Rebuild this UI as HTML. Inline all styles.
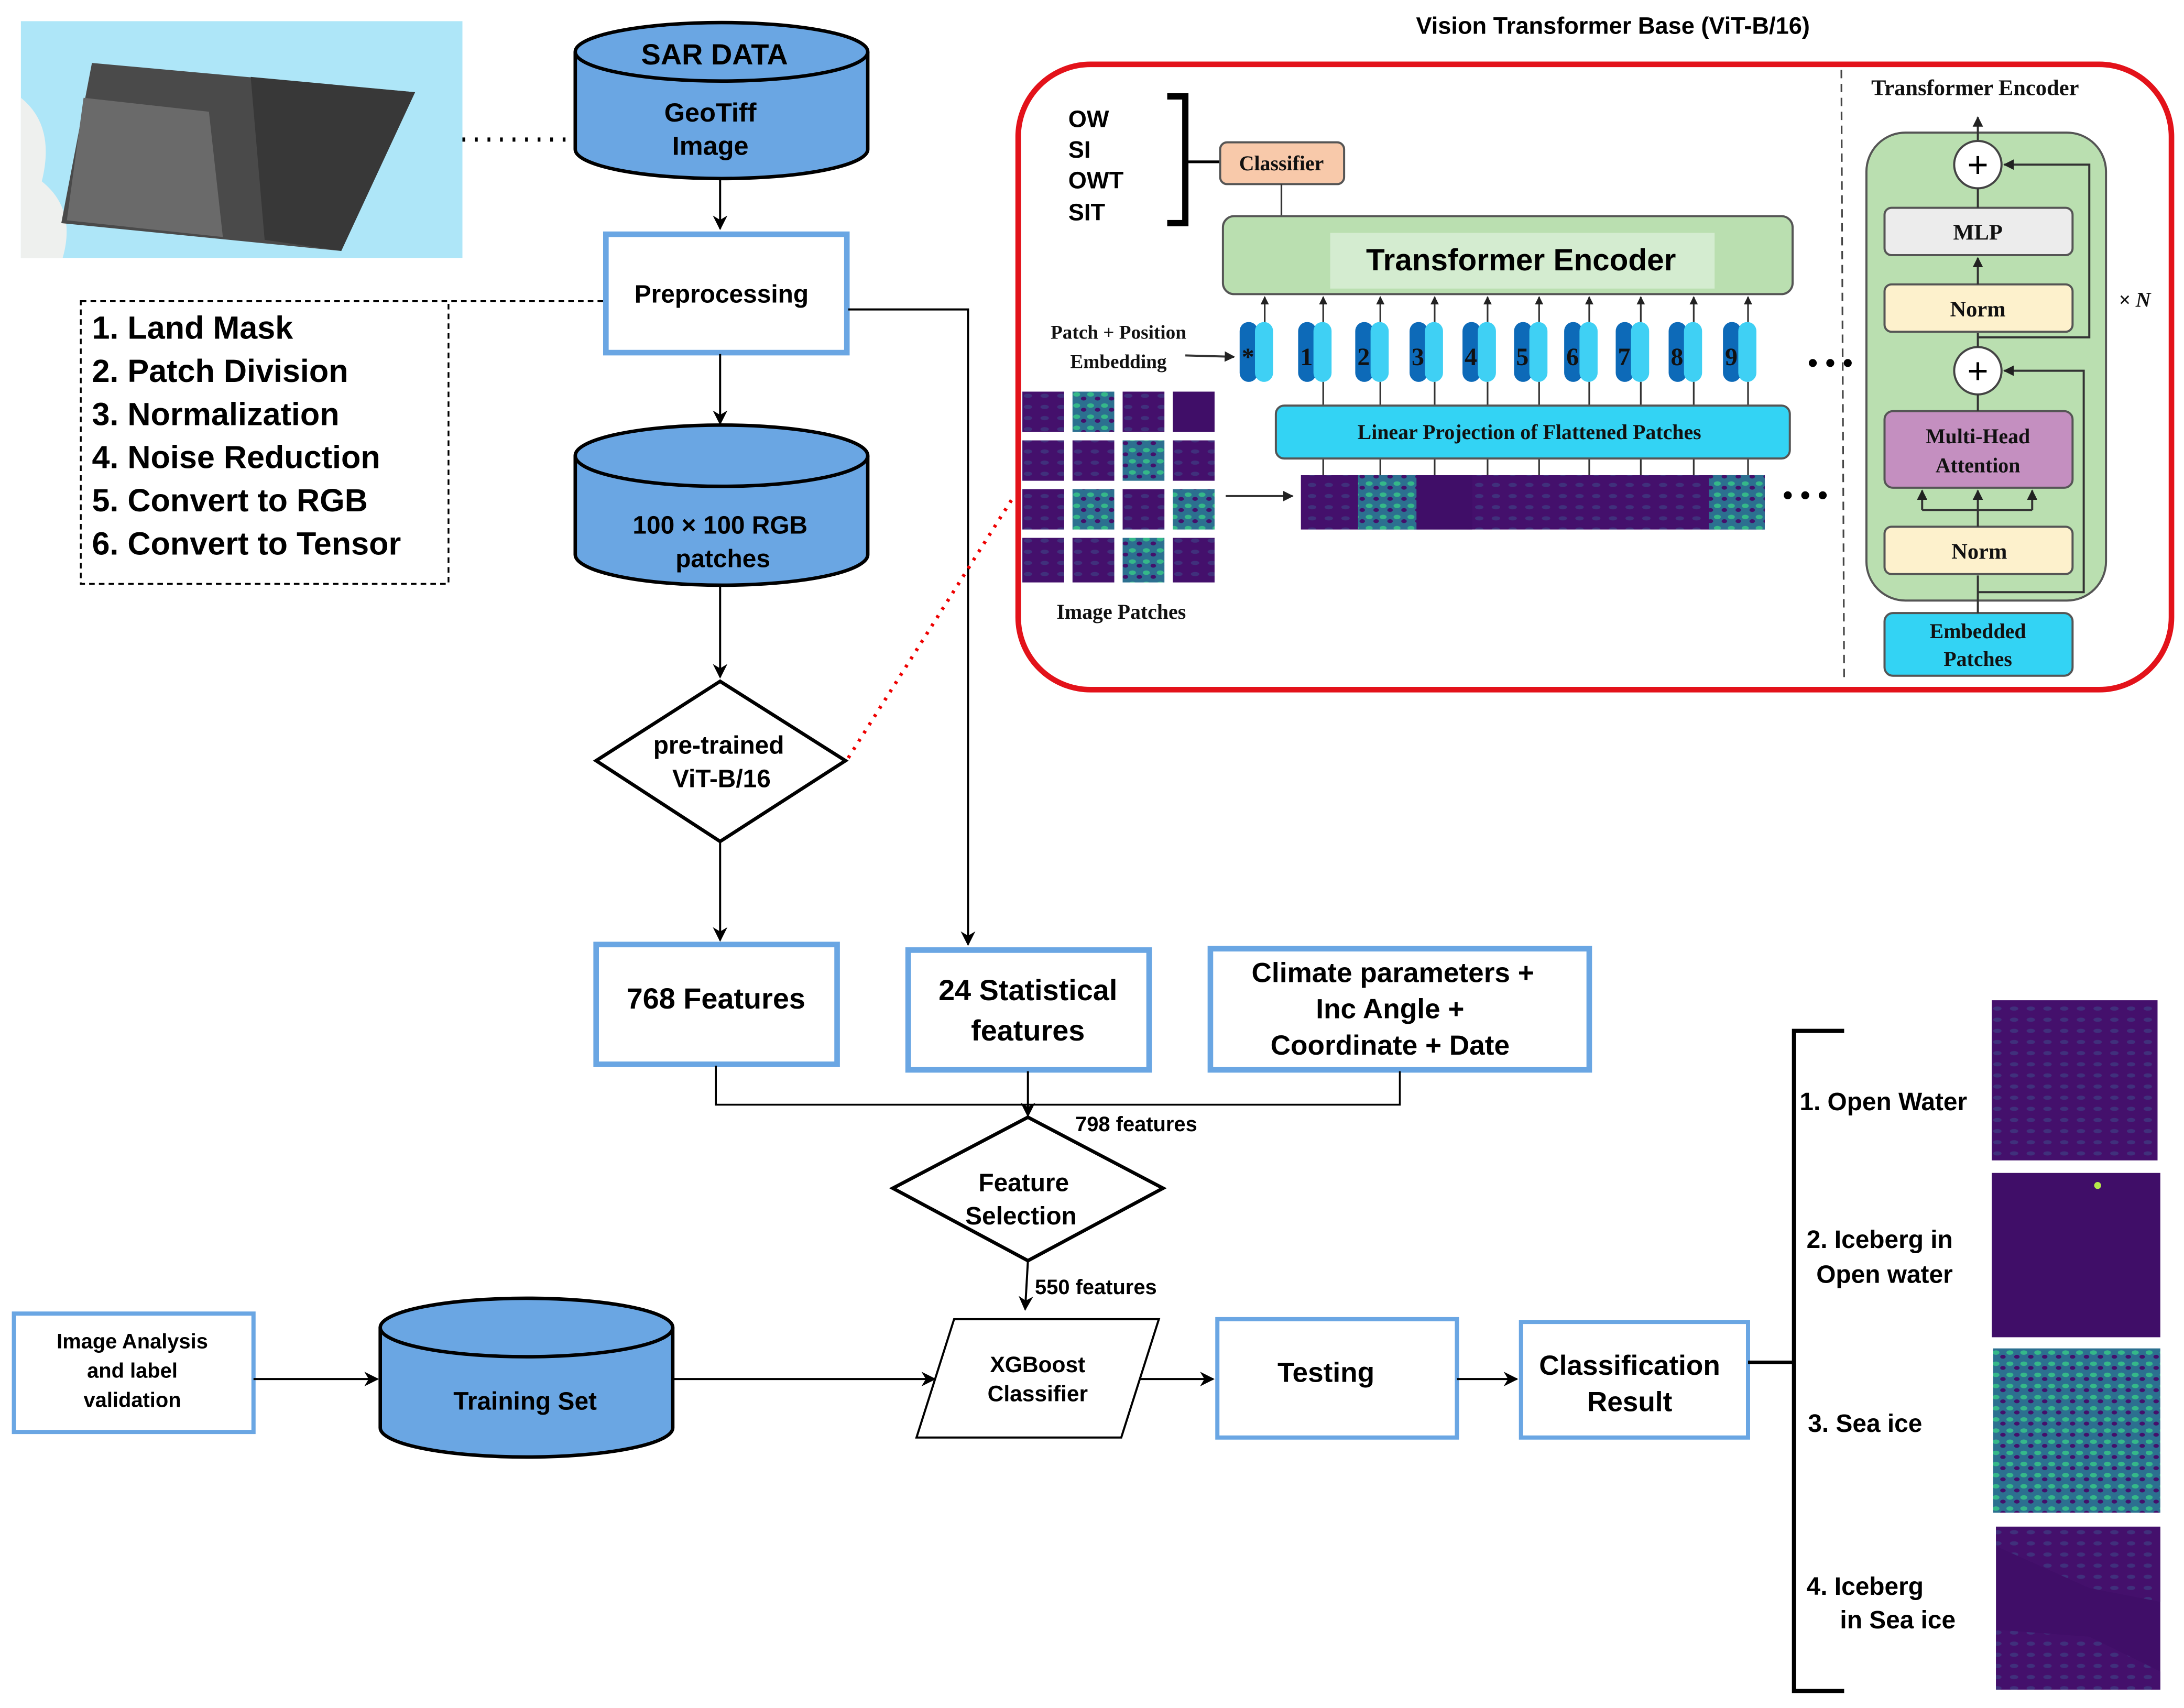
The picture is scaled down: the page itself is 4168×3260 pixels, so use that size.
<!DOCTYPE html>
<html><head><meta charset="utf-8"><style>
html,body{margin:0;padding:0;background:#fff}
svg{display:block}
.s{font-family:"Liberation Sans",sans-serif;font-weight:bold;fill:#000}
.r{font-family:"Liberation Serif",serif;font-weight:bold;fill:#111}
</style></head><body>
<svg width="4168" height="3260" viewBox="0 0 1568 1226" xmlns="http://www.w3.org/2000/svg">
<defs>
<marker id="a" viewBox="0 0 10 10" refX="9" refY="5" markerWidth="7" markerHeight="7" orient="auto-start-reverse"><path d="M0,0 L10,5 L0,10 L3,5 z" fill="#000"/></marker>
<marker id="b" viewBox="0 0 10 10" refX="9" refY="5" markerWidth="5" markerHeight="5" orient="auto"><path d="M0,0 L10,5 L0,10 z" fill="#222"/></marker>
<pattern id="pw" width="12" height="8" patternUnits="userSpaceOnUse"><rect width="12" height="8" fill="#44106c"/><ellipse cx="6" cy="4" rx="3" ry="1.5" fill="#3b4f8c" opacity=".5"/></pattern>
<pattern id="pi" width="10" height="8" patternUnits="userSpaceOnUse"><rect width="10" height="8" fill="#2c7090"/><ellipse cx="3" cy="3" rx="2.5" ry="1.6" fill="#35b889"/><ellipse cx="8" cy="6" rx="2" ry="1.4" fill="#44106c"/></pattern>
</defs>
<rect width="1568" height="1226" fill="#fff"/>

<!-- map -->
<rect x="15" y="15" width="317" height="170" fill="#aee6f8"/>
<path d="M15,70 Q40,90 30,130 Q55,150 45,185 L15,185 Z" fill="#eef0ee"/>
<polygon points="66,45 298,66 245,180 44,160" fill="#4a4a4a"/>
<polygon points="60,70 150,80 160,170 48,158" fill="#6a6a6a"/>
<polygon points="180,55 298,66 245,180 190,172" fill="#383838"/>
<line x1="332" y1="100" x2="410" y2="100" stroke="#000" stroke-width="3" stroke-dasharray="2,7"/>

<!-- SAR cylinder -->
<path d="M413,37 V107 A105,21 0 0 0 623,107 V37" fill="#6aa6e3" stroke="#000" stroke-width="2.5"/>
<ellipse cx="518" cy="37" rx="105" ry="21" fill="#6aa6e3" stroke="#000" stroke-width="2.5"/>
<text x="513" y="46" class="s" font-size="21" text-anchor="middle">SAR DATA</text>
<text x="510" y="87" class="s" font-size="19" text-anchor="middle">GeoTiff</text>
<text x="510" y="111" class="s" font-size="19" text-anchor="middle">Image</text>
<line x1="517" y1="128" x2="517" y2="164" stroke="#000" stroke-width="1.5" marker-end="url(#a)"/>

<!-- preprocessing -->
<rect x="435" y="168" width="173" height="85" fill="#fff" stroke="#6aa6e3" stroke-width="4"/>
<text x="518" y="217" class="s" font-size="18" text-anchor="middle">Preprocessing</text>
<polyline points="433,216 322,216" stroke="#000" stroke-width="1.3" stroke-dasharray="4,3" fill="none"/>
<rect x="58" y="216" width="264" height="203" fill="none" stroke="#000" stroke-width="1.3" stroke-dasharray="4,3"/>
<g class="s" font-size="23">
<text x="66" y="243">1. Land Mask</text>
<text x="66" y="274">2. Patch Division</text>
<text x="66" y="305">3. Normalization</text>
<text x="66" y="336">4. Noise Reduction</text>
<text x="66" y="367">5. Convert to RGB</text>
<text x="66" y="398">6. Convert to Tensor</text>
</g>
<polyline points="609,222 695,222 695,678" stroke="#000" stroke-width="1.5" fill="none" marker-end="url(#a)"/>
<line x1="517" y1="254" x2="517" y2="304" stroke="#000" stroke-width="1.5" marker-end="url(#a)"/>

<!-- 100x100 cylinder -->
<path d="M413,327 V398 A105,22 0 0 0 623,398 V327" fill="#6aa6e3" stroke="#000" stroke-width="2.5"/>
<ellipse cx="518" cy="327" rx="105" ry="22" fill="#6aa6e3" stroke="#000" stroke-width="2.5"/>
<text x="517" y="383" class="s" font-size="18" text-anchor="middle">100 × 100 RGB</text>
<text x="519" y="407" class="s" font-size="18" text-anchor="middle">patches</text>
<line x1="517" y1="420" x2="517" y2="486" stroke="#000" stroke-width="1.5" marker-end="url(#a)"/>

<!-- diamond ViT -->
<polygon points="517,489 607,546 517,604 428,546" fill="#fff" stroke="#000" stroke-width="2.5"/>
<text x="516" y="541" class="s" font-size="18" text-anchor="middle">pre-trained</text>
<text x="518" y="565" class="s" font-size="18" text-anchor="middle">ViT-B/16</text>
<line x1="609" y1="544" x2="728" y2="356" stroke="#e00" stroke-width="2.5" stroke-dasharray="2,5"/>
<line x1="517" y1="604" x2="517" y2="675" stroke="#000" stroke-width="1.5" marker-end="url(#a)"/>

<!-- feature boxes -->
<rect x="428" y="678" width="173" height="86" fill="#fff" stroke="#6aa6e3" stroke-width="4"/>
<text x="514" y="724" class="s" font-size="21" text-anchor="middle">768 Features</text>
<rect x="652" y="682" width="173" height="86" fill="#fff" stroke="#6aa6e3" stroke-width="4"/>
<text x="738" y="718" class="s" font-size="21" text-anchor="middle">24 Statistical</text>
<text x="738" y="747" class="s" font-size="21" text-anchor="middle">features</text>
<rect x="869" y="681" width="272" height="87" fill="#fff" stroke="#6aa6e3" stroke-width="4"/>
<text x="1000" y="705" class="s" font-size="20" text-anchor="middle">Climate parameters +</text>
<text x="998" y="731" class="s" font-size="20" text-anchor="middle">Inc Angle +</text>
<text x="998" y="757" class="s" font-size="20" text-anchor="middle">Coordinate + Date</text>
<polyline points="514,765 514,793 1005,793 1005,769" stroke="#000" stroke-width="1.3" fill="none"/>
<line x1="738" y1="769" x2="738" y2="801" stroke="#000" stroke-width="1.5" marker-end="url(#a)"/>
<text x="772" y="812" class="s" font-size="15">798 features</text>

<polygon points="738,802 835,853 738,905 641,853" fill="#fff" stroke="#000" stroke-width="2.5"/>
<text x="735" y="855" class="s" font-size="18" text-anchor="middle">Feature</text>
<text x="733" y="879" class="s" font-size="18" text-anchor="middle">Selection</text>
<line x1="738" y1="905" x2="736" y2="940" stroke="#000" stroke-width="1.5" marker-end="url(#a)"/>
<text x="743" y="929" class="s" font-size="15">550 features</text>

<!-- bottom row -->
<rect x="10" y="943" width="172" height="85" fill="#fff" stroke="#6aa6e3" stroke-width="3"/>
<text x="95" y="968" class="s" font-size="15" text-anchor="middle">Image Analysis</text>
<text x="95" y="989" class="s" font-size="15" text-anchor="middle">and label</text>
<text x="95" y="1010" class="s" font-size="15" text-anchor="middle">validation</text>
<line x1="182" y1="990" x2="271" y2="990" stroke="#000" stroke-width="1.5" marker-end="url(#a)"/>
<path d="M273,953 V1025 A105,21 0 0 0 483,1025 V953" fill="#6aa6e3" stroke="#000" stroke-width="2.5"/>
<ellipse cx="378" cy="953" rx="105" ry="21" fill="#6aa6e3" stroke="#000" stroke-width="2.5"/>
<text x="377" y="1012" class="s" font-size="18" text-anchor="middle">Training Set</text>
<line x1="483" y1="990" x2="671" y2="990" stroke="#000" stroke-width="1.5" marker-end="url(#a)"/>
<polygon points="685,947 832,947 805,1032 658,1032" fill="#fff" stroke="#000" stroke-width="1.5"/>
<text x="745" y="985" class="s" font-size="16" text-anchor="middle">XGBoost</text>
<text x="745" y="1006" class="s" font-size="16" text-anchor="middle">Classifier</text>
<line x1="818" y1="990" x2="871" y2="990" stroke="#000" stroke-width="1.5" marker-end="url(#a)"/>
<rect x="874" y="947" width="172" height="85" fill="#fff" stroke="#6aa6e3" stroke-width="3"/>
<text x="952" y="992" class="s" font-size="20" text-anchor="middle">Testing</text>
<line x1="1046" y1="990" x2="1089" y2="990" stroke="#000" stroke-width="1.5" marker-end="url(#a)"/>
<rect x="1092" y="949" width="163" height="83" fill="#fff" stroke="#6aa6e3" stroke-width="3"/>
<text x="1170" y="987" class="s" font-size="20" text-anchor="middle">Classification</text>
<text x="1170" y="1013" class="s" font-size="20" text-anchor="middle">Result</text>
<line x1="1255" y1="978" x2="1288" y2="978" stroke="#000" stroke-width="2.5"/>
<polyline points="1324,740 1288,740 1288,1214 1324,1214" stroke="#000" stroke-width="3" fill="none"/>
<g class="s" font-size="18">
<text x="1292" y="797">1. Open Water</text>
<text x="1297" y="896">2. Iceberg  in</text>
<text x="1304" y="921">Open water</text>
<text x="1298" y="1028">3. Sea ice</text>
<text x="1297" y="1145">4. Iceberg</text>
<text x="1321" y="1169">in Sea ice</text>
</g>
<rect x="1430" y="718" width="119" height="115" fill="url(#pw)"/>
<rect x="1430" y="842" width="121" height="118" fill="#400e68"/>
<circle cx="1506" cy="851" r="2.5" fill="#b6e84a"/>
<rect x="1431" y="968" width="120" height="118" fill="url(#pi)"/>
<rect x="1433" y="1096" width="118" height="117" fill="#400e68"/>
<polygon points="1433,1096 1551,1096 1551,1150 1500,1140 1433,1110" fill="url(#pw)"/>
<polygon points="1433,1170 1500,1175 1551,1200 1551,1213 1433,1213" fill="url(#pw)"/>

<!-- ViT panel -->
<text x="1158" y="24" class="s" font-size="17" text-anchor="middle">Vision Transformer Base (ViT-B/16)</text>
<rect x="731" y="46" width="828" height="449" rx="52" fill="#fff" stroke="#e3121a" stroke-width="4"/>
<line x1="1322" y1="50" x2="1324" y2="490" stroke="#444" stroke-width="1.2" stroke-dasharray="6,4"/>
<text x="1418" y="68" class="r" font-size="16" text-anchor="middle">Transformer Encoder</text>
<g class="s" font-size="17">
<text x="767" y="91">OW</text><text x="767" y="113">SI</text><text x="767" y="135">OWT</text><text x="767" y="158">SIT</text>
</g>
<polyline points="838,69 851,69 851,160 838,160" stroke="#000" stroke-width="4.5" fill="none"/>
<line x1="851" y1="116" x2="876" y2="116" stroke="#000" stroke-width="2"/>
<rect x="876" y="102" width="89" height="30" rx="5" fill="#f8c9aa" stroke="#555" stroke-width="1.5"/>
<text x="920" y="122" class="r" font-size="15" text-anchor="middle">Classifier</text>
<line x1="920" y1="132" x2="920" y2="155" stroke="#333" stroke-width="1.2"/>
<rect x="878" y="155" width="409" height="56" rx="8" fill="#badfb0" stroke="#555" stroke-width="1.5"/>
<rect x="955" y="167" width="276" height="40" fill="#d4ecd0"/>
<text x="1092" y="194" class="s" font-size="22" text-anchor="middle">Transformer Encoder</text>
<text x="803" y="243" class="r" font-size="14" text-anchor="middle">Patch + Position</text>
<text x="803" y="264" class="r" font-size="14" text-anchor="middle">Embedding</text>
<line x1="851" y1="255" x2="886" y2="256" stroke="#333" stroke-width="1.5" marker-end="url(#b)"/>
<g font-family="Liberation Serif" font-weight="bold" font-size="18" fill="#111">
<g><rect x="890" y="231" width="13" height="43" rx="6.5" fill="#0d6ab8"/><rect x="901" y="231" width="13" height="43" rx="6.5" fill="#3fd0f4"/><text x="896" y="262" text-anchor="middle">*</text></g>
<g><rect x="932" y="231" width="13" height="43" rx="6.5" fill="#0d6ab8"/><rect x="943" y="231" width="13" height="43" rx="6.5" fill="#3fd0f4"/><text x="938" y="262" text-anchor="middle">1</text></g>
<g><rect x="973" y="231" width="13" height="43" rx="6.5" fill="#0d6ab8"/><rect x="984" y="231" width="13" height="43" rx="6.5" fill="#3fd0f4"/><text x="979" y="262" text-anchor="middle">2</text></g>
<g><rect x="1012" y="231" width="13" height="43" rx="6.5" fill="#0d6ab8"/><rect x="1023" y="231" width="13" height="43" rx="6.5" fill="#3fd0f4"/><text x="1018" y="262" text-anchor="middle">3</text></g>
<g><rect x="1050" y="231" width="13" height="43" rx="6.5" fill="#0d6ab8"/><rect x="1061" y="231" width="13" height="43" rx="6.5" fill="#3fd0f4"/><text x="1056" y="262" text-anchor="middle">4</text></g>
<g><rect x="1087" y="231" width="13" height="43" rx="6.5" fill="#0d6ab8"/><rect x="1098" y="231" width="13" height="43" rx="6.5" fill="#3fd0f4"/><text x="1093" y="262" text-anchor="middle">5</text></g>
<g><rect x="1123" y="231" width="13" height="43" rx="6.5" fill="#0d6ab8"/><rect x="1134" y="231" width="13" height="43" rx="6.5" fill="#3fd0f4"/><text x="1129" y="262" text-anchor="middle">6</text></g>
<g><rect x="1160" y="231" width="13" height="43" rx="6.5" fill="#0d6ab8"/><rect x="1171" y="231" width="13" height="43" rx="6.5" fill="#3fd0f4"/><text x="1166" y="262" text-anchor="middle">7</text></g>
<g><rect x="1198" y="231" width="13" height="43" rx="6.5" fill="#0d6ab8"/><rect x="1209" y="231" width="13" height="43" rx="6.5" fill="#3fd0f4"/><text x="1204" y="262" text-anchor="middle">8</text></g>
<g><rect x="1237" y="231" width="13" height="43" rx="6.5" fill="#0d6ab8"/><rect x="1248" y="231" width="13" height="43" rx="6.5" fill="#3fd0f4"/><text x="1243" y="262" text-anchor="middle">9</text></g>
</g>
<g stroke="#333" stroke-width="1.2">
<line x1="908" y1="231" x2="908" y2="213" marker-end="url(#b)"/>
<line x1="950" y1="231" x2="950" y2="213" marker-end="url(#b)"/>
<line x1="991" y1="231" x2="991" y2="213" marker-end="url(#b)"/>
<line x1="1030" y1="231" x2="1030" y2="213" marker-end="url(#b)"/>
<line x1="1068" y1="231" x2="1068" y2="213" marker-end="url(#b)"/>
<line x1="1105" y1="231" x2="1105" y2="213" marker-end="url(#b)"/>
<line x1="1141" y1="231" x2="1141" y2="213" marker-end="url(#b)"/>
<line x1="1178" y1="231" x2="1178" y2="213" marker-end="url(#b)"/>
<line x1="1216" y1="231" x2="1216" y2="213" marker-end="url(#b)"/>
<line x1="1255" y1="231" x2="1255" y2="213" marker-end="url(#b)"/>
<line x1="950" y1="274" x2="950" y2="341"/><line x1="991" y1="274" x2="991" y2="341"/><line x1="1030" y1="274" x2="1030" y2="341"/><line x1="1068" y1="274" x2="1068" y2="341"/><line x1="1105" y1="274" x2="1105" y2="341"/><line x1="1141" y1="274" x2="1141" y2="341"/><line x1="1178" y1="274" x2="1178" y2="341"/><line x1="1216" y1="274" x2="1216" y2="341"/><line x1="1255" y1="274" x2="1255" y2="341"/>
</g>
<text x="1298" y="267" class="s" font-size="20">• • •</text>
<rect x="916" y="291" width="369" height="38" rx="6" fill="#33d3f4" stroke="#555" stroke-width="1.5"/>
<text x="1098" y="315" class="r" font-size="15" text-anchor="middle">Linear Projection of Flattened Patches</text>
<rect x="934" y="341" width="333" height="39" fill="url(#pw)"/>
<rect x="975" y="341" width="42" height="39" fill="url(#pi)"/>
<rect x="1017" y="341" width="40" height="39" fill="#400e68"/>
<rect x="1227" y="341" width="40" height="39" fill="url(#pi)"/>
<text x="1280" y="362" class="s" font-size="20">• • •</text>
<line x1="880" y1="356" x2="928" y2="356" stroke="#333" stroke-width="1.5" marker-end="url(#b)"/>
<g>
<rect x="733" y="280" width="140" height="140" fill="#fff"/>
<rect x="734" y="281" width="30" height="29" fill="url(#pw)"/><rect x="770" y="281" width="30" height="29" fill="url(#pi)"/><rect x="806" y="281" width="30" height="29" fill="url(#pw)"/><rect x="842" y="281" width="30" height="29" fill="#400e68"/>
<rect x="734" y="316" width="30" height="29" fill="url(#pw)"/><rect x="770" y="316" width="30" height="29" fill="url(#pw)"/><rect x="806" y="316" width="30" height="29" fill="url(#pi)"/><rect x="842" y="316" width="30" height="29" fill="url(#pw)"/>
<rect x="734" y="351" width="30" height="29" fill="url(#pw)"/><rect x="770" y="351" width="30" height="29" fill="url(#pi)"/><rect x="806" y="351" width="30" height="29" fill="url(#pw)"/><rect x="842" y="351" width="30" height="29" fill="url(#pi)"/>
<rect x="734" y="386" width="30" height="32" fill="url(#pw)"/><rect x="770" y="386" width="30" height="32" fill="url(#pw)"/><rect x="806" y="386" width="30" height="32" fill="url(#pi)"/><rect x="842" y="386" width="30" height="32" fill="url(#pw)"/>
</g>
<text x="805" y="444" class="r" font-size="15" text-anchor="middle">Image Patches</text>

<!-- encoder detail -->
<rect x="1340" y="95" width="172" height="336" rx="28" fill="#badfb0" stroke="#555" stroke-width="1.5"/>
<line x1="1420" y1="101" x2="1420" y2="84" stroke="#333" stroke-width="1.5" marker-end="url(#b)"/>
<circle cx="1420" cy="118" r="17" fill="#fff" stroke="#444" stroke-width="1.5"/>
<text x="1420" y="127" font-family="Liberation Sans" font-size="26" text-anchor="middle">+</text>
<circle cx="1420" cy="266" r="17" fill="#fff" stroke="#444" stroke-width="1.5"/>
<text x="1420" y="275" font-family="Liberation Sans" font-size="26" text-anchor="middle">+</text>
<rect x="1353" y="149" width="135" height="34" rx="5" fill="#ececec" stroke="#555" stroke-width="1.5"/>
<text x="1420" y="172" class="r" font-size="16" text-anchor="middle">MLP</text>
<rect x="1353" y="204" width="135" height="34" rx="5" fill="#fdf1cc" stroke="#555" stroke-width="1.5"/>
<text x="1420" y="227" class="r" font-size="16" text-anchor="middle">Norm</text>
<rect x="1353" y="295" width="135" height="55" rx="6" fill="#c48fc0" stroke="#555" stroke-width="1.5"/>
<text x="1420" y="318" class="r" font-size="15" text-anchor="middle">Multi-Head</text>
<text x="1420" y="339" class="r" font-size="15" text-anchor="middle">Attention</text>
<rect x="1353" y="378" width="135" height="34" rx="5" fill="#fdf1cc" stroke="#555" stroke-width="1.5"/>
<text x="1421" y="401" class="r" font-size="16" text-anchor="middle">Norm</text>
<rect x="1353" y="440" width="135" height="45" rx="6" fill="#33d3f4" stroke="#555" stroke-width="1.5"/>
<text x="1420" y="458" class="r" font-size="15" text-anchor="middle">Embedded</text>
<text x="1420" y="478" class="r" font-size="15" text-anchor="middle">Patches</text>
<g stroke="#333" stroke-width="1.5" fill="none">
<line x1="1420" y1="440" x2="1420" y2="413"/>
<line x1="1420" y1="378" x2="1420" y2="352" marker-end="url(#b)"/>
<polyline points="1380,366 1459,366"/>
<line x1="1380" y1="366" x2="1380" y2="352" marker-end="url(#b)"/>
<line x1="1459" y1="366" x2="1459" y2="352" marker-end="url(#b)"/>
<line x1="1420" y1="295" x2="1420" y2="283"/>
<line x1="1420" y1="249" x2="1420" y2="239"/>
<line x1="1420" y1="204" x2="1420" y2="185" marker-end="url(#b)"/>
<line x1="1420" y1="149" x2="1420" y2="135"/>
<polyline points="1420,425 1496,425 1496,266 1439,266" marker-end="url(#b)"/>
<polyline points="1420,242 1500,242 1500,118 1439,118" marker-end="url(#b)"/>
</g>
<text x="1521" y="220" class="r" font-size="15" font-style="italic">× N</text>
</svg>
</body></html>
